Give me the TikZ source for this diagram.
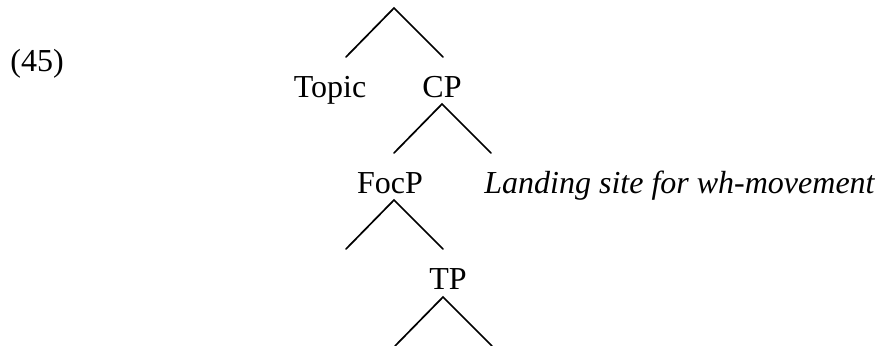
\documentclass[tikz,border=0pt]{standalone}
\usepackage{fontspec}
\setmainfont{Liberation Serif}
\usetikzlibrary{positioning}

\tikzset{
  branch/.style={black, line width=0.85pt, line cap=round},
  lbl/.style={anchor=base, inner sep=0pt, font=\fontsize{16}{19}\selectfont}
}

\begin{document}
\begin{tikzpicture}[x=0.5pt,y=-0.5pt]
\useasboundingbox (0,0) rectangle (879,345);

% example number
\node[lbl] (exnum) at (37,71) {(45)};

% top
\coordinate (top) at (394,8);
\coordinate (top-l) at (346,57);
\coordinate (top-r) at (443,57);
\draw[branch] (top-l) -- (top) -- (top-r);

\node[lbl] (topic) at (330,97) {Topic};
\node[lbl] (cp) at (442,97) {CP};

% CP
\coordinate (cp-top) at (442,104);
\coordinate (cp-l) at (394,153);
\coordinate (cp-r) at (491,153);
\draw[branch] (cp-l) -- (cp-top) -- (cp-r);

\node[lbl] (focp) at (390,193) {FocP};
\node[lbl, anchor=base west] (landing) at (484,193) {\itshape Landing site for wh-movement};

% FocP
\coordinate (focp-top) at (394,200);
\coordinate (focp-l) at (346,249);
\coordinate (focp-r) at (443,249);
\draw[branch] (focp-l) -- (focp-top) -- (focp-r);

\node[lbl] (tp) at (448,289) {TP};

% TP
\coordinate (tp-top) at (443,297);
\coordinate (tp-l) at (395,346);
\coordinate (tp-r) at (492,346);
\draw[branch] (tp-l) -- (tp-top) -- (tp-r);

\end{tikzpicture}
\end{document}
